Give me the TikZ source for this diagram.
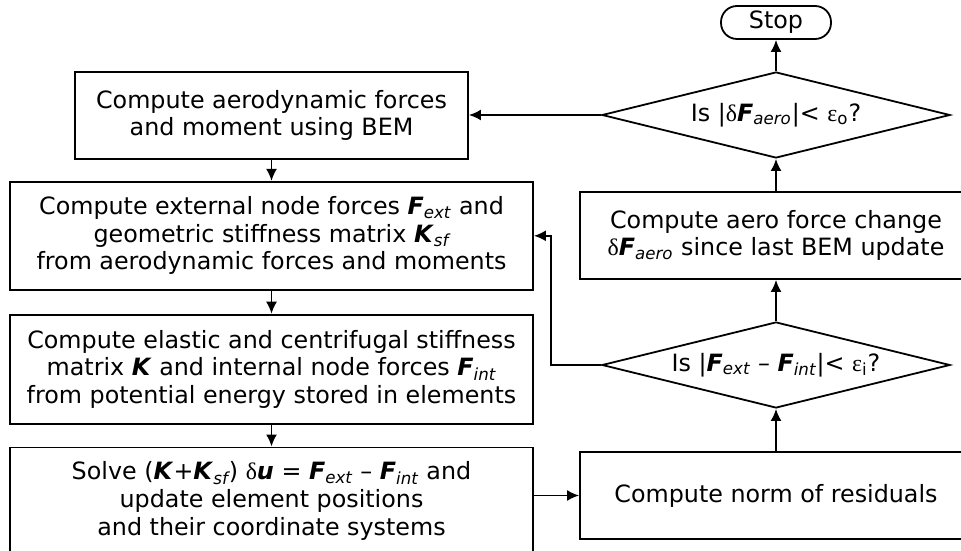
\documentclass[tikz,border=0pt]{standalone}
\usepackage{fontspec}
\setmainfont{DejaVu Sans}
\newfontfamily\grk{Liberation Serif}
\usetikzlibrary{positioning,shapes.geometric,arrows.meta}
\newcommand{\vF}{\textbf{\textit{F}}}
\newcommand{\vK}{\textbf{\textit{K}}}
\newcommand{\vu}{\textbf{\textit{u}}}
\newcommand{\vsub}[1]{\textsubscript{\itshape #1}}
\newcommand{\dl}{{\grk δ}}
\newcommand{\ep}{{\grk ε}}
\begin{document}
\begin{tikzpicture}[x=0.5pt,y=-0.5pt,line width=0.9pt,
  font=\fontsize{11.9}{13.8}\selectfont,node distance=11pt,
  box/.style={draw,align=center,inner sep=2pt,minimum width=#1},
  ques/.style={draw,diamond,aspect=4,inner sep=0pt,minimum width=174pt,minimum height=43pt},
  term/.style={draw,rounded corners=8pt,minimum width=55pt,minimum height=16.5pt,inner sep=0pt},
  arr/.style={-{Latex[length=6pt,width=5.5pt]}}]
  \useasboundingbox (0,0) rectangle (961,550);
  % left column
  \node[box=196.5pt,minimum height=43.5pt] (bem) at (271.5,115.5) {Compute aerodynamic forces\\and moment using BEM};
  \node[box=261.5pt,minimum height=54pt,below=10.5pt of bem] (fext) {Compute external node forces \vF\vsub{ext} and\\geometric stiffness matrix \vK\vsub{sf}\\from aerodynamic forces and moments};
  \node[box=261.5pt,minimum height=54.5pt,below=11.5pt of fext] (stiff) {Compute elastic and centrifugal stiffness\\matrix \vK{} and internal node forces \vF\vsub{int}\\from potential energy stored in elements};
  \node[box=261.5pt,minimum height=53.5pt,below=11pt of stiff] (solve) {Solve (\vK+\vK\vsub{sf}) \dl\vu{} = \vF\vsub{ext} – \vF\vsub{int} and\\update element positions\\and their coordinate systems};
  % right column
  \node[term] (stop) at (776,22.5) {Stop};
  \node[ques] (outer) at (776,115) {Is |\dl\vF\vsub{aero}|< \ep\textsubscript{o}?};
  \node[box=196pt,minimum height=43.5pt] (dfaero) at (776,235.5) {Compute aero force change\\\dl\vF\vsub{aero} since last BEM update};
  \node[ques] (inner) at (776,365) {Is |\vF\vsub{ext} – \vF\vsub{int}|< \ep\textsubscript{i}?};
  \node[box=196pt,minimum height=43.5pt] (resid) at (776,495.5) {Compute norm of residuals};
  \draw[arr] (bem)--(fext); \draw[arr] (fext)--(stiff); \draw[arr] (stiff)--(solve);
  \draw[arr] (solve.east |- resid) -- (resid);
  \draw[arr] (resid)--(inner); \draw[arr] (inner)--(dfaero);
  \draw[arr] (dfaero)--(outer); \draw[arr] (outer)--(stop);
  \draw[arr] (outer.west) -- (outer.west -| bem.east);
  \draw[arr] (inner.west) -- ++(-25pt,0) |- (fext.east);
\end{tikzpicture}
\end{document}
